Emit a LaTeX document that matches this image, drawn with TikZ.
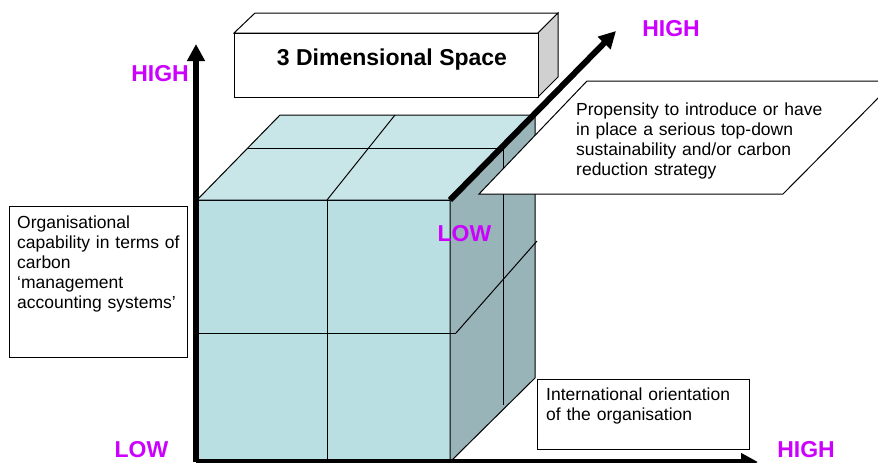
\documentclass[tikz,border=0pt]{standalone}
\usepackage{fontspec}
\setmainfont{Liberation Sans}
\usetikzlibrary{arrows.meta}
\definecolor{frontc}{RGB}{185,223,227}
\definecolor{topc}{RGB}{200,230,232}
\definecolor{sidec}{RGB}{152,180,184}
\definecolor{greyc}{RGB}{208,208,208}
\definecolor{mag}{RGB}{204,0,255}
\begin{document}
\begin{tikzpicture}[x=1pt,y=-1pt,
  thin line/.style={line width=1pt, line join=miter},
  axisline/.style={line width=6pt, -{Triangle[length=17pt,width=17pt]}},
  level/.style={text=mag, font=\fontsize{23}{27}\selectfont\bfseries, inner sep=0, anchor=base},
  body/.style={font=\fontsize{17.5}{20}\selectfont, align=left, inner sep=0, anchor=base west}]
\useasboundingbox (0,0) rectangle (878,463);

% key points
\coordinate (O) at (196,462);
\coordinate (Vtip) at (196,44);
\coordinate (Htip) at (758,462);
\coordinate (Dstart) at (450,200);
\coordinate (Dtip) at (616,31);

% cube faces
\draw[thin line, fill=frontc] (197,200) rectangle (450,462);
\draw[thin line, fill=topc] (197,200) -- (280,115) -- (535,115) -- (450,200) -- cycle;
\draw[thin line, fill=sidec] (450,200) -- (535,115) -- (535,378) -- (450,462) -- cycle;
% grid lines
\draw[thin line] (327,200) -- (327,462);
\draw[thin line] (197,333) -- (456,333);
\draw[thin line] (456,333) -- (537,241);
\draw[thin line] (248,148) -- (503,148);
\draw[thin line] (503,148) -- (503,405);
\draw[thin line] (327,200) -- (395,115);

% title box
\draw[thin line, fill=white] (234,33) -- (255,13) -- (558,13) -- (538,33) -- cycle;
\draw[thin line, fill=greyc] (538,33) -- (558,13) -- (558,77) -- (538,97) -- cycle;
\draw[thin line, fill=white] (234,33) rectangle (538,97);
\node[font=\fontsize{23}{27}\selectfont\bfseries, inner sep=0] (title) at (392,60) {3 Dimensional Space};

% propensity parallelogram
\draw[thin line, fill=white] (479,194) -- (587,81) -- (895,81) -- (783,194) -- cycle;
\node[body, text width=260pt] (prop) at (576,115) {Propensity to introduce or have\\in place a serious top-down\\sustainability and/or carbon\\reduction strategy};

% left box
\draw[thin line, fill=white] (9,206) rectangle (187,357);
\node[body, text width=170pt] (orgcap) at (17,228) {Organisational\\capability in terms of\\carbon\\‘management\\accounting systems’};

% bottom right box
\draw[thin line, fill=white] (537,379) rectangle (749,449);
\node[body, text width=205pt] (intl) at (546,400) {International orientation\\of the organisation};

% axes
\draw[axisline] (O) -- (Vtip);
\draw[axisline] (O) -- (Htip);
\draw[axisline] (Dstart) -- (Dtip);

% level labels
\node[level] (highV) at (160,81) {HIGH};
\node[level] (lowV) at (141.5,457) {LOW};
\node[level] (highH) at (806,457) {HIGH};
\node[level] (highD) at (671,36) {HIGH};
\node[level] (lowD) at (464.5,241) {LOW};
\end{tikzpicture}
\end{document}
